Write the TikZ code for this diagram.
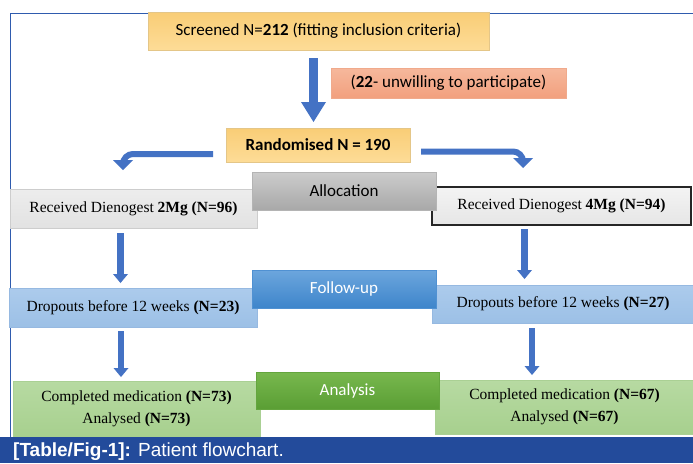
\documentclass[tikz,border=0pt]{standalone}
\usepackage{fontspec}
\setmainfont{Liberation Serif}
\newfontfamily\calibri{Carlito}
\newfontfamily\arialf{Liberation Sans}
\usetikzlibrary{arrows.meta}
\definecolor{arrowblue}{HTML}{4472C4}
\definecolor{framecol}{HTML}{2F5BAE}
\definecolor{capblue}{HTML}{234B9B}
\definecolor{yellowtop}{HTML}{F9CD76}
\definecolor{yellowbot}{HTML}{FDDC97}
\begin{document}
\begin{tikzpicture}[x=1pt,y=-1pt,
  box/.style={inner sep=0pt, outer sep=0pt, align=center, anchor=center},
  cal/.style={font=\calibri\fontsize{17}{20}\selectfont},
  tms/.style={font=\fontsize{15.5}{22}\selectfont},
  yellowbox/.style={box, cal, top color=yellowtop, bottom color=yellowbot, draw=yellowbot!90!black, line width=0.4pt},
  mainarrow/.style={draw=arrowblue, line width=9pt, -{Triangle[width=25pt,length=20pt,line width=0pt]}},
  bentarrow/.style={draw=arrowblue, line width=6pt, rounded corners=10pt, -{Triangle[width=20pt,length=10pt,line width=0pt]}},
  vertarrow/.style={draw=arrowblue, line width=6.5pt, -{Triangle[width=15pt,length=9pt,line width=0pt]}}
]
\useasboundingbox (0,0) rectangle (693,463);
\fill[white] (0,0) rectangle (693,463);
% frame
\draw[framecol, line width=1pt] (10,437) -- (10,13) -- (700,13);
% top part
\node[yellowbox, minimum width=341pt, minimum height=38pt] (screen) at (318.5,31)
  {Screened N=\textbf{212} (fitting inclusion criteria)};
\node[box, cal, minimum width=235pt, minimum height=30pt, top color={rgb,255:red,246;green,184;blue,156}, bottom color={rgb,255:red,242;green,160;blue,126}, draw={rgb,255:red,240;green,170;blue,140}, line width=0.4pt] (unwill) at (448.5,83)
  {(\textbf{22}- unwilling to participate)};
\node[yellowbox, minimum width=184pt, minimum height=34pt] (rand) at (318,145)
  {\textbf{Randomised N = 190}};
% side boxes
\node[box, tms, minimum width=247pt, minimum height=39pt, top color={rgb,255:red,237;green,237;blue,237}, bottom color={rgb,255:red,226;green,226;blue,226}, draw={rgb,255:red,205;green,205;blue,205}, line width=0.6pt] (recL) at (133.5,208.5)
  {Received Dienogest \textbf{2Mg (N=96)}};
\node[box, tms, minimum width=259pt, minimum height=38pt, top color={rgb,255:red,243;green,243;blue,243}, bottom color={rgb,255:red,230;green,230;blue,230}, draw=black!85, line width=1.3pt] (recR) at (561.5,206)
  {Received Dienogest \textbf{4Mg (N=94)}};
\node[box, tms, minimum width=248pt, minimum height=39pt, top color={rgb,255:red,172;green,203;blue,236}, bottom color={rgb,255:red,156;green,192;blue,230}, draw={rgb,255:red,150;green,185;blue,225}, line width=0.4pt] (dropL) at (133,307.5)
  {Dropouts before 12 weeks \textbf{(N=23)}};
\node[box, tms, minimum width=262pt, minimum height=38pt, top color={rgb,255:red,172;green,203;blue,236}, bottom color={rgb,255:red,156;green,192;blue,230}, draw={rgb,255:red,150;green,185;blue,225}, line width=0.4pt] (dropR) at (563,304)
  {Dropouts before 12 weeks \textbf{(N=27)}};
\node[box, tms, minimum width=247pt, minimum height=56pt, top color={rgb,255:red,183;green,218;blue,162}, bottom color={rgb,255:red,167;green,208;blue,142}, draw={rgb,255:red,170;green,208;blue,148}, line width=0.4pt] (compL) at (136.5,409)
  {Completed medication \textbf{(N=73)}\\ Analysed \textbf{(N=73)}};
\node[box, tms, minimum width=259pt, minimum height=54pt, top color={rgb,255:red,183;green,218;blue,162}, bottom color={rgb,255:red,167;green,208;blue,142}, draw={rgb,255:red,170;green,208;blue,148}, line width=0.4pt] (compR) at (564.5,407)
  {Completed medication \textbf{(N=67)}\\ Analysed \textbf{(N=67)}};
% stage labels
\node[box, cal, minimum width=184pt, minimum height=38pt, top color={rgb,255:red,204;green,204;blue,204}, bottom color={rgb,255:red,168;green,168;blue,168}, draw={rgb,255:red,180;green,180;blue,180}, line width=0.4pt] (alloc) at (344,191)
  {Allocation};
\node[box, cal, text=white, minimum width=184pt, minimum height=38pt, top color={rgb,255:red,108;green,166;blue,221}, bottom color={rgb,255:red,62;green,133;blue,203}, draw={rgb,255:red,80;green,145;blue,210}, line width=0.4pt] (follow) at (344,289)
  {Follow-up};
\node[box, cal, text=white, minimum width=183pt, minimum height=37pt, top color={rgb,255:red,120;green,184;blue,78}, bottom color={rgb,255:red,90;green,158;blue,52}, draw={rgb,255:red,100;green,165;blue,62}, line width=0.4pt] (analysis) at (347.5,390.5)
  {Analysis};
% arrows
\draw[mainarrow, shorten <=8pt, shorten >=6pt] ([xshift=-5pt]screen.south) -- ([xshift=-4.5pt]rand.north);
\draw[bentarrow] ([shift={(-13,9)}]rand.west) -| ([shift={(-10.5,-19)}]recL.north);
\draw[bentarrow] ([shift={(11,6.5)}]rand.east) -| ([shift={(-38.5,-19)}]recR.north);
\draw[vertarrow] ([shift={(-13,5)}]recL.south) -- ([shift={(-12.5,-5)}]dropL.north);
\draw[vertarrow] ([shift={(-12,4)}]dropL.south) -- ([shift={(-15.5,-4)}]compL.north);
\draw[vertarrow] ([shift={(-37,4)}]recR.south) -- ([shift={(-38.5,-6)}]dropR.north);
\draw[vertarrow] ([shift={(-31,5)}]dropR.south) -- ([shift={(-32.5,-5)}]compR.north);
% caption
\fill[capblue] (0,437) rectangle (693,463);
\node[anchor=base west, inner sep=0pt, text=white, font=\arialf\fontsize{19}{21}\selectfont] (cap) at (13,456.5)
  {\textbf{[Table/Fig-1]:} Patient flowchart.};
\end{tikzpicture}
\end{document}
